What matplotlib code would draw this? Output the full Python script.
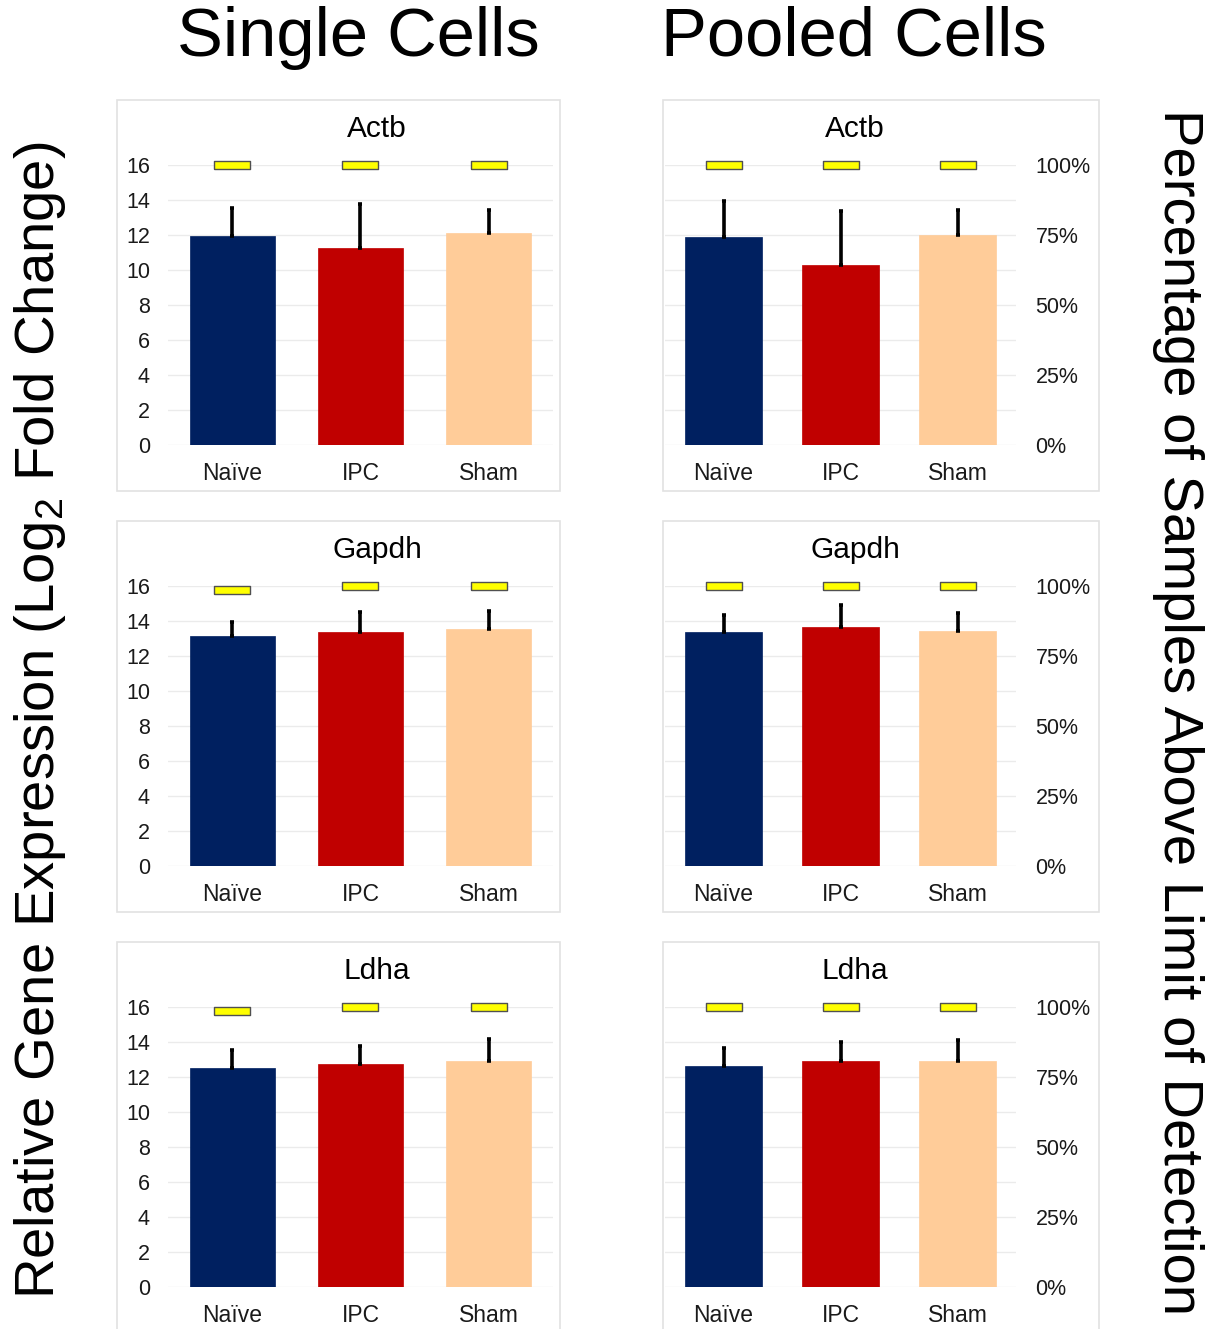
import matplotlib
matplotlib.use("Agg")
import matplotlib.pyplot as plt
from matplotlib.patches import Rectangle
from matplotlib.ticker import FuncFormatter

plt.rcParams['font.family'] = ['Liberation Sans', 'DejaVu Sans']
plt.rcParams['mathtext.fontset'] = 'custom'
plt.rcParams['mathtext.rm'] = 'Liberation Sans'

groups = ['Naïve', 'IPC', 'Sham']
genes = ['Actb', 'Gapdh', 'Ldha']
colors = ['#002060', '#c00000', '#ffcc99']

# log2 fold change, mean and upper error, rows follow `genes`
single_mean = [[11.95, 11.25, 12.10], [13.15, 13.35, 13.52], [12.51, 12.77, 12.91]]
single_err = [[1.62, 2.51, 1.31], [0.80, 1.18, 1.07], [1.06, 0.98, 1.24]]
single_pct = [[1.0, 1.0, 1.0], [0.987, 1.0, 1.0], [0.985, 1.0, 1.0]]

pooled_mean = [[11.90, 10.30, 12.01], [13.39, 13.66, 13.41], [12.61, 12.90, 12.90]]
pooled_err = [[2.04, 3.07, 1.42], [0.94, 1.25, 1.07], [1.05, 1.08, 1.24]]
pooled_pct = [[1.0, 1.0, 1.0], [1.0, 1.0, 1.0], [1.0, 1.0, 1.0]]

W, H = 1211, 1329
fig = plt.figure(figsize=(W / 100, H / 100), dpi=100)


def box(x0, y0, x1, y1):
    return [x0 / W, 1 - y1 / H, (x1 - x0) / W, (y1 - y0) / H]


# flat yellow bar used as the detection-limit marker
dash = [(-1, -0.23), (1, -0.23), (1, 0.23), (-1, 0.23), (-1, -0.23)]


def panel(rect, means, errs, pct, show_left, show_right):
    ax = fig.add_axes(rect)
    x = range(len(groups))
    ax.bar(x, means, width=0.66, color=colors, edgecolor=colors, lw=0.5, zorder=2)
    ax.errorbar(x, means, yerr=[[0] * len(errs), errs], fmt='none', ecolor='black',
                elinewidth=2.6, capsize=1.2, capthick=2.6, zorder=3)
    ax.set_xlim(-0.5, 2.5)
    ax.set_ylim(0, 16)
    ax.set_yticks(range(0, 17, 2))
    ax.grid(axis='y', color='#ebebeb', lw=1, zorder=0)
    ax.set_axisbelow(True)
    ax.set_xticks(list(x))
    ax.set_xticklabels(groups, fontsize=16.5, color='#1a1a1a')
    ax.tick_params(axis='x', length=0, pad=12)
    ax.tick_params(axis='y', length=0, pad=13, labelsize=15.5, labelcolor='#1a1a1a')
    if not show_left:
        ax.set_yticklabels([])
    for s in ax.spines.values():
        s.set_visible(False)

    ax2 = ax.twinx()
    ax2.set_ylim(0, 1)
    ax2.plot(list(x), pct, ls='none', marker=dash, ms=26, mfc='#ffff00',
             mec='#505050', mew=1.0, clip_on=False, zorder=4)
    ax2.set_yticks([0, 0.25, 0.5, 0.75, 1.0])
    ax2.yaxis.set_major_formatter(FuncFormatter(lambda v, p: f'{v:.0%}'))
    ax2.tick_params(axis='y', length=0, pad=14, labelsize=15.5, labelcolor='#1a1a1a')
    if not show_right:
        ax2.set_yticklabels([])
    for s in ax2.spines.values():
        s.set_visible(False)
    return ax


rows = [(165, 445), (586, 866), (1007, 1287)]
frames = [(100, 491), (521, 912), (942, 1335)]
title_y = [129, 550, 971]

for i, gene in enumerate(genes):
    y0, y1 = rows[i]
    panel(box(168, y0, 553, y1), single_mean[i], single_err[i], single_pct[i], True, False)
    panel(box(665, y0, 1016, y1), pooled_mean[i], pooled_err[i], pooled_pct[i], False, True)

    f0, f1 = frames[i]
    for fx0, fx1 in [(117, 560), (663, 1099)]:
        fig.patches.append(Rectangle((fx0 / W, 1 - f1 / H), (fx1 - fx0) / W, (f1 - f0) / H,
                                     transform=fig.transFigure, fill=False,
                                     edgecolor='#e2e2e2', lw=1.2))
    fig.text(377 / W, 1 - title_y[i] / H, gene, fontsize=21.5, ha='center', va='center')
    fig.text(855 / W, 1 - title_y[i] / H, gene, fontsize=21.5, ha='center', va='center')

fig.text(358 / W, 1 - 38 / H, 'Single Cells', fontsize=49.5, ha='center', va='center')
fig.text(854 / W, 1 - 38 / H, 'Pooled Cells', fontsize=49.5, ha='center', va='center')

fig.text(40 / W, 1 - 720 / H, 'Relative Gene Expression (Log$_\\mathregular{2}$ Fold Change)',
         fontsize=40.5, rotation=90, ha='center', va='center')
fig.text(1178 / W, 1 - 712 / H, 'Percentage of Samples Above Limit of Detection',
         fontsize=40.5, rotation=270, ha='center', va='center')

fig.savefig('out.png', dpi=100)
